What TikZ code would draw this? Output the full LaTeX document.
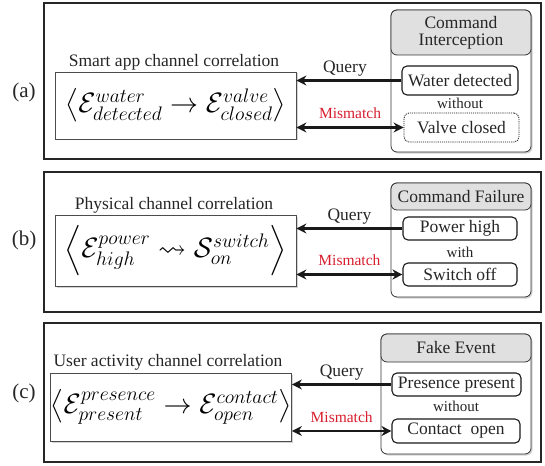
\documentclass[tikz,border=0pt]{standalone}
\usepackage{fix-cm}
\usepackage{amsmath,amssymb}
\usepackage{fontspec}
\setmainfont{Liberation Serif}
\usepackage{tikz}
\usetikzlibrary{shadows}
\usetikzlibrary{arrows.meta,shapes}
\usetikzlibrary{calc}
\definecolor{mismatchred}{RGB}{215,30,45}
\tikzstyle{panel}=[draw=black!85,line width=2.2pt]
\tikzstyle{corrbox}=[draw=black!70,thick,fill=white,inner sep=0pt,drop shadow={opacity=0.35,shadow xshift=1.5pt,shadow yshift=-1.5pt},font=\fontsize{28}{32}\selectfont]
\tikzstyle{group}=[draw=black!80,thick,rounded corners=6pt,fill=white,inner sep=0pt,drop shadow={opacity=0.35,shadow xshift=1.5pt,shadow yshift=-1.5pt}]
\tikzstyle{header}=[draw=black!80,thick,rounded corners=6pt,fill=black!12,inner sep=0pt,align=center,font=\fontsize{17.5}{18}\selectfont,text=black!85]
\tikzstyle{event}=[draw=black!90,line width=1.1pt,rounded corners=5pt,fill=white,inner sep=0pt,font=\fontsize{17.5}{19}\selectfont,text=black!85]
\tikzstyle{queryedge}=[draw=black!90,line width=2.4pt,arrows={Stealth[length=10pt,width=10pt]-}]
\tikzstyle{mismatchedge}=[draw=black!90,line width=2.4pt,arrows={Stealth[length=10pt,width=10pt]-Stealth[length=10pt,width=10pt]}]
\tikzstyle{weight}=[font=\fontsize{17.5}{19}\selectfont,text=black!85]
\tikzstyle{relword}=[font=\fontsize{15}{17}\selectfont,text=black!85]
\tikzstyle{redword}=[font=\fontsize{15.5}{17}\selectfont,text=mismatchred]
\begin{document}
\begin{tikzpicture}[x=1pt,y=-1pt]
    \useasboundingbox (0,0) rectangle (545,465);
    % Outer frames and panel labels
    \foreach \top/\bot/\name in {3/159/a, 172/312/b, 323/462/c}
        \draw[panel] (44,\top) rectangle (541,\bot);
    \foreach \pos/\name in {{(24,92)/a}, {(24,240)/b}, {(24,393)/c}}
        \node[font=\fontsize{21}{23}\selectfont,text=black!85] (lbl\name) at \pos {(\name)};

    % (a) smart app channel
    \node[corrbox,minimum width=241,minimum height=67] (corrA) at (175.5,105.5)
        {$\left\langle\mathcal{E}^{water}_{detected}\rightarrow\mathcal{E}^{valve}_{closed}\right\rangle$};
    \node[weight] (titleA) at (174,62) {Smart app channel correlation};
    \node[group,minimum width=140,minimum height=142] (grpA) at (461,81) {};
    \node[header,minimum width=140,minimum height=45] (hdrA) at (461,32.5) {Command\\[-1pt]Interception};
    \node[event,minimum width=116,minimum height=29] (waterA) at (460,80.5) {Water detected};
    \node[relword] (relA) at (460,103) {without};
    \node[event,densely dotted,line width=0.8pt,minimum width=115,minimum height=29] (valveA) at (461.5,127.5) {Valve closed};
    \draw[queryedge] (waterA.west -| corrA.east) -- node[weight,above=0pt,xshift=-4pt] {Query} (waterA.west);
    \draw[mismatchedge,line width=2.6pt] (valveA.west -| corrA.east) -- node[redword,above=4pt] {Mismatch} (valveA.west);

    % (b) physical channel
    \node[corrbox,minimum width=241,minimum height=71] (corrB) at (175.5,250.5)
        {$\left\langle\mathcal{E}^{power}_{high}\leadsto\mathcal{S}^{switch}_{on}\right\rangle$};
    \node[weight] (titleB) at (174,205) {Physical channel correlation};
    \node[group,minimum width=140,minimum height=114] (grpB) at (461,240) {};
    \node[header,minimum width=140,minimum height=27] (hdrB) at (461,196.5) {Command Failure};
    \node[event,minimum width=114,minimum height=23] (powerB) at (460,228.5) {Power high};
    \node[relword] (relB) at (460,252) {with};
    \node[event,minimum width=114,minimum height=23] (switchB) at (460,274.5) {Switch off};
    \draw[queryedge] (powerB.west -| corrB.east) -- node[weight,above=0pt] {Query} (powerB.west);
    \draw[mismatchedge,line width=2.6pt] (switchB.west -| corrB.east) -- node[redword,above=4pt] {Mismatch} (switchB.west);

    % (c) user activity channel
    \node[corrbox,minimum width=232,minimum height=68] (corrC) at (171,407)
        {$\left\langle\mathcal{E}^{presence}_{present}\rightarrow\mathcal{E}^{contact}_{open}\right\rangle$};
    \node[weight] (titleC) at (168,362) {User activity channel correlation};
    \node[group,minimum width=150,minimum height=120] (grpC) at (456,394) {};
    \node[header,minimum width=150,minimum height=28] (hdrC) at (456,348) {Fake Event};
    \node[event,minimum width=129,minimum height=23] (presC) at (456.5,384.5) {Presence present};
    \node[relword] (relC) at (456,406) {without};
    \node[event,minimum width=128,minimum height=24] (contC) at (456,431) {Contact\ \ open};
    \draw[queryedge] (presC.west -| corrC.east) -- node[weight,above=0pt] {Query} (presC.west);
    \draw[mismatchedge,line width=2.6pt] (contC.west -| corrC.east) -- node[redword,above=4pt] {Mismatch} (contC.west);
\end{tikzpicture}
\end{document}
